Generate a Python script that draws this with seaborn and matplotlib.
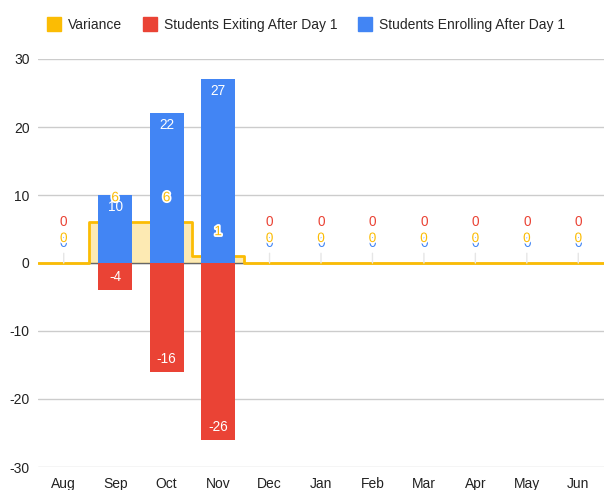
import numpy as np
import pandas as pd
import matplotlib
matplotlib.use("Agg")
import matplotlib.pyplot as plt
import matplotlib.patheffects as pe
from matplotlib.lines import Line2D
import seaborn as sns

months = ["Aug", "Sep", "Oct", "Nov", "Dec", "Jan", "Feb", "Mar", "Apr", "May", "Jun"]
variance = [0, 6, 6, 1, 0, 0, 0, 0, 0, 0, 0]
exiting = [0, -4, -16, -26, 0, 0, 0, 0, 0, 0, 0]
enrolling = [0, 10, 22, 27, 0, 0, 0, 0, 0, 0, 0]
yticks = [-30, -20, -10, 0, 10, 20, 30]

YEL = "#FBBC04"
RED = "#EA4335"
BLUE = "#4285F4"

sns.set_theme(style="white")
plt.rcParams["font.family"] = ["Liberation Sans", "DejaVu Sans"]
plt.rcParams["axes.unicode_minus"] = False

df = pd.DataFrame({"month": months, "variance": variance,
                   "exiting": exiting, "enrolling": enrolling})

fig = plt.figure(figsize=(6.04, 4.90), dpi=100)
ax = fig.add_axes([38 / 604, 23 / 490, 566 / 604, 408 / 490])

# grid
for t in yticks:
    ax.axhline(t, color="#cccccc", lw=1, zorder=0)
ax.axhline(0, color="#666666", lw=1, zorder=0.5)

# stepped area for variance
n = len(months)
edges = np.arange(n + 1) - 0.5
vals = np.array(variance + [variance[-1]], dtype=float)
ax.fill_between(edges, vals, 0, step="post", color=YEL, alpha=0.3, lw=0, zorder=1)
ax.step(edges, vals, where="post", color=YEL, lw=2, zorder=1.2)

# bars
sns.barplot(data=df, x="month", y="exiting", color=RED, width=0.66,
            saturation=1, linewidth=0, ax=ax, zorder=2)
sns.barplot(data=df, x="month", y="enrolling", color=BLUE, width=0.66,
            saturation=1, linewidth=0, ax=ax, zorder=2)

fs = 9.8
halo = [pe.withStroke(linewidth=2.5, foreground="white")]

for i in range(n):
    e = enrolling[i]
    if e != 0:
        ax.annotate(str(e), (i, e), xytext=(0, -12), textcoords="offset pixels",
                    ha="center", va="center", color="white", fontsize=fs, zorder=5)
    else:
        ax.annotate(str(e), (i, 0), xytext=(0, 20), textcoords="offset pixels",
                    ha="center", va="center", color=BLUE, fontsize=fs, zorder=4,
                    arrowprops=dict(arrowstyle="-", color="#e6e6e6", lw=1,
                                    shrinkA=0, shrinkB=0))
    x_ = exiting[i]
    if x_ != 0:
        ax.annotate(str(x_), (i, x_), xytext=(0, 13), textcoords="offset pixels",
                    ha="center", va="center", color="white", fontsize=fs, zorder=5)
    else:
        ax.annotate(str(x_), (i, 0), xytext=(0, 41), textcoords="offset pixels",
                    ha="center", va="center", color=RED, fontsize=fs, zorder=5)
    v = variance[i]
    ax.annotate(str(v), (i, v), xytext=(0, 25), textcoords="offset pixels",
                ha="center", va="center", color=YEL, fontsize=fs, zorder=6,
                path_effects=halo)

ax.set_xlim(-0.5, n - 0.5)
ax.set_ylim(-30, 30)
ax.set_yticks(yticks)
ax.set_xlabel("")
ax.set_ylabel("")
for s in ax.spines.values():
    s.set_visible(False)
ax.tick_params(axis="both", length=0, labelsize=10, colors="#222222")
ax.tick_params(axis="y", pad=6)
ax.tick_params(axis="x", pad=7)

handles = [Line2D([], [], marker="s", ls="", markersize=9.5, color=c)
           for c in (YEL, RED, BLUE)]
fig.legend(handles, ["Variance", "Students Exiting After Day 1", "Students Enrolling After Day 1"],
           loc="center", bbox_to_anchor=(306 / 604, 1 - 25 / 490), ncol=3, frameon=False,
           fontsize=10, handletextpad=0.5, columnspacing=1.5, handlelength=1.0)

fig.savefig("out.png", dpi=100)
